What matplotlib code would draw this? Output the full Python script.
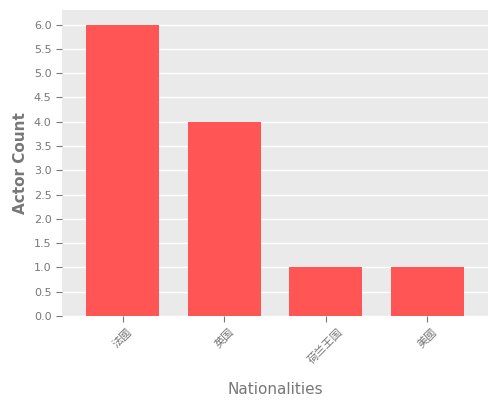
import matplotlib
matplotlib.use("Agg")
import matplotlib.pyplot as plt

nationalities = ["法國", "英国", "荷兰王国", "美國"]
counts = [6, 4, 1, 1]

plt.rcParams['font.family'] = ['DejaVu Sans', 'Noto Sans CJK SC']

fig = plt.figure(figsize=(5, 4), dpi=100)
ax = fig.add_axes([0.124, 0.21, 0.852, 0.765])
ax.set_facecolor('#eaeaea')
ax.bar(range(len(counts)), counts, width=0.72, color='#ff5555', zorder=3)
ax.set_xticks(range(len(counts)))
ax.set_xticklabels(nationalities, rotation=45, fontsize=8, color='#777777',
                   family=['Noto Sans CJK SC', 'DejaVu Sans'])
ax.set_yticks([i * 0.5 for i in range(13)])
ax.set_yticklabels(["%.1f" % (i * 0.5) for i in range(13)], fontsize=8, color='#777777')
ax.set_ylim(0, 6.3)
ax.set_xlim(-0.6, 3.6)
ax.grid(axis='y', color='white', linewidth=1, zorder=0)
for s in ax.spines.values():
    s.set_visible(False)
ax.tick_params(colors='#777777', length=4)
ax.set_xlabel("Nationalities", fontsize=11, color='#777777', labelpad=12)
ax.set_ylabel("Actor Count", fontsize=11, color='#777777', fontweight='bold')
fig.savefig("out.png")
